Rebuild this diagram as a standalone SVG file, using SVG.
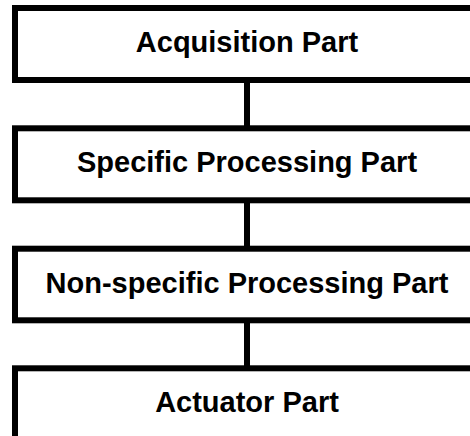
<svg xmlns="http://www.w3.org/2000/svg" width="470" height="436" viewBox="0 0 470 436">
<style>
.box{fill:#fff;stroke:#000;stroke-width:6}
.lbl{font-family:"Liberation Sans",Arial,sans-serif;font-weight:bold;font-size:29px;text-anchor:middle;fill:#000}
.conn{stroke:#000;stroke-width:6;fill:none}
</style>
<rect width="470" height="436" fill="#fff"/>
<g id="connectors">
<line class="conn" x1="247" y1="83" x2="247" y2="126"/>
<line class="conn" x1="247" y1="203" x2="247" y2="246"/>
<line class="conn" x1="247" y1="323" x2="247" y2="366"/>
</g>
<g id="acquisition">
<rect class="box" x="15" y="8" width="470" height="72"/>
<text class="lbl" x="247" y="52">Acquisition Part</text>
</g>
<g id="specific">
<rect class="box" x="15" y="128.3" width="470" height="72"/>
<text class="lbl" x="247" y="172.3">Specific Processing Part</text>
</g>
<g id="nonspecific">
<rect class="box" x="15" y="248.7" width="470" height="71.6"/>
<text class="lbl" x="247" y="292.7">Non-specific Processing Part</text>
</g>
<g id="actuator">
<rect class="box" x="15" y="368.3" width="470" height="80"/>
<text class="lbl" x="247" y="412.3">Actuator Part</text>
</g>
</svg>
